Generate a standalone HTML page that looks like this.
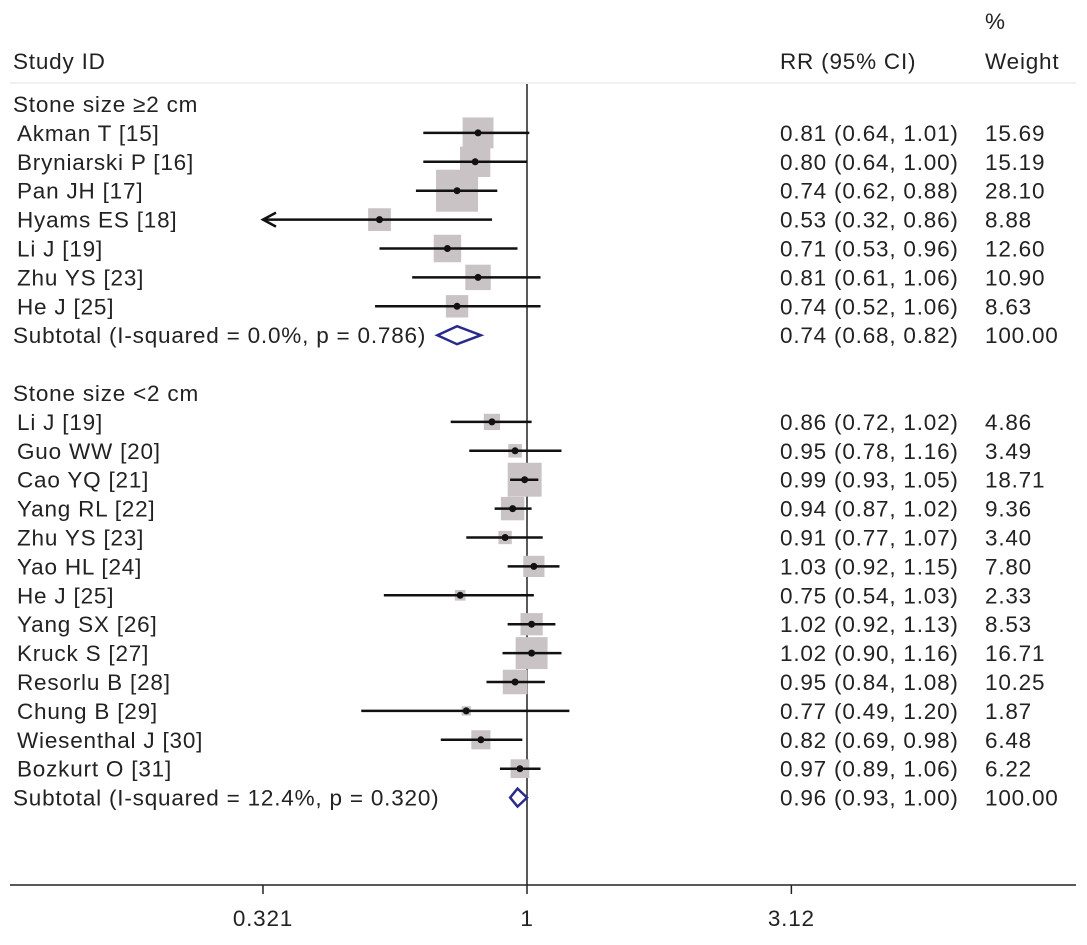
<!DOCTYPE html>
<html><head><meta charset="utf-8"><style>
body{margin:0;background:#fff}
svg text{font-family:"Liberation Sans",Arial,sans-serif;font-size:22.5px;fill:#222;letter-spacing:0.8px}
</style></head><body>
<svg width="1087" height="940" id="plot">
<g id="g"></g>
</svg>
<script>
const studies=["Akman T [15]","Bryniarski P [16]","Pan JH [17]","Hyams ES [18]","Li J [19]","Zhu YS [23]","He J [25]",
"Li J [19]","Guo WW [20]","Cao YQ [21]","Yang RL [22]","Zhu YS [23]","Yao HL [24]","He J [25]","Yang SX [26]","Kruck S [27]","Resorlu B [28]","Chung B [29]","Wiesenthal J [30]","Bozkurt O [31]"];
const groups=[0,0,0,0,0,0,0,1,1,1,1,1,1,1,1,1,1,1,1,1];
const rr=[0.81,0.80,0.74,0.53,0.71,0.81,0.74,0.86,0.95,0.99,0.94,0.91,1.03,0.75,1.02,1.02,0.95,0.77,0.82,0.97];
const lo=[0.64,0.64,0.62,0.32,0.53,0.61,0.52,0.72,0.78,0.93,0.87,0.77,0.92,0.54,0.92,0.90,0.84,0.49,0.69,0.89];
const hi=[1.01,1.00,0.88,0.86,0.96,1.06,1.06,1.02,1.16,1.05,1.02,1.07,1.15,1.03,1.13,1.16,1.08,1.20,0.98,1.06];
const weights=[15.69,15.19,28.10,8.88,12.60,10.90,8.63,4.86,3.49,18.71,9.36,3.40,7.80,2.33,8.53,16.71,10.25,1.87,6.48,6.22];
const subLabels=["Subtotal (I-squared = 0.0%, p = 0.786)","Subtotal (I-squared = 12.4%, p = 0.320)"];
const subRR=[0.74,0.96],subLo=[0.68,0.93],subHi=[0.82,1.00];
const groupLabels=["Stone size \u22652 cm","Stone size <2 cm"];
const ticks=[0.321,1,3.12];
const tickLabels=["0.321","1","3.12"];
const xMin=0.321;
const X=v=>527+535*Math.log10(v);
const Y=i=>104+i*28.9;
const ns="http://www.w3.org/2000/svg",g=document.getElementById('g');
function mk(t,a,txt){const e=document.createElementNS(ns,t);for(const k in a)e.setAttribute(k,a[k]);if(txt!=null)e.textContent=txt;g.appendChild(e);return e;}
const f2=v=>v.toFixed(2);
let e;
e=mk('line',{x1:10,x2:1076,y1:83,y2:83,stroke:'#ececec','stroke-width':1.5});
e=mk('text',{x:13,y:69},'Study ID');
e=mk('text',{x:780,y:69},'RR (95% CI)');
e=mk('text',{x:985,y:29},'%');
e=mk('text',{x:985,y:69},'Weight');
e=mk('line',{x1:X(1),x2:X(1),y1:84,y2:885,stroke:'#222','stroke-width':1.5});
e=mk('line',{x1:10,x2:1076,y1:885,y2:885,stroke:'#222','stroke-width':1.5});
ticks.forEach((t,i)=>{e=mk('line',{x1:X(t),x2:X(t),y1:885,y2:894,stroke:'#222','stroke-width':1.5});
e=mk('text',{x:X(t),y:926,'text-anchor':'middle'},tickLabels[i]);});
let row=0;
[0,1].forEach(gi=>{
 e=mk('text',{x:13,y:Y(row)+8},groupLabels[gi]);row++;
 studies.forEach((s,i)=>{if(groups[i]!==gi)return;const y=Y(row);
  const side=Math.max(0,8.3*Math.sqrt(weights[i])-2);
  e=mk('rect',{x:X(rr[i])-side/2,y:y-side/2,width:side,height:side,fill:'#c9c3c6'});
  const l=Math.max(lo[i],xMin);
  e=mk('line',{x1:X(l),x2:X(hi[i]),y1:y,y2:y,stroke:'#111','stroke-width':2.5});
  if(lo[i]<xMin){e=mk('path',{d:`M${X(xMin)+13},${y-7} L${X(xMin)},${y} L${X(xMin)+13},${y+7}`,fill:'none',stroke:'#111','stroke-width':2.5});}
  e=mk('circle',{cx:X(rr[i]),cy:y,r:3.5,fill:'#111'});
  e=mk('text',{x:17,y:y+8},s);
  e=mk('text',{x:780,y:y+8},`${f2(rr[i])} (${f2(lo[i])}, ${f2(hi[i])})`);
  e=mk('text',{x:985,y:y+8},f2(weights[i]));
  row++;});
 const y=Y(row);
 e=mk('text',{x:13,y:y+8},subLabels[gi]);
 e=mk('polygon',{points:`${X(subLo[gi])},${y} ${X(subRR[gi])},${y-9} ${X(subHi[gi])},${y} ${X(subRR[gi])},${y+9}`,fill:'#fff',stroke:'#2a2a8a','stroke-width':2.5});
 e=mk('text',{x:780,y:y+8},`${f2(subRR[gi])} (${f2(subLo[gi])}, ${f2(subHi[gi])})`);
 e=mk('text',{x:985,y:y+8},'100.00');
 row+=2;
});
</script>
</body></html>
